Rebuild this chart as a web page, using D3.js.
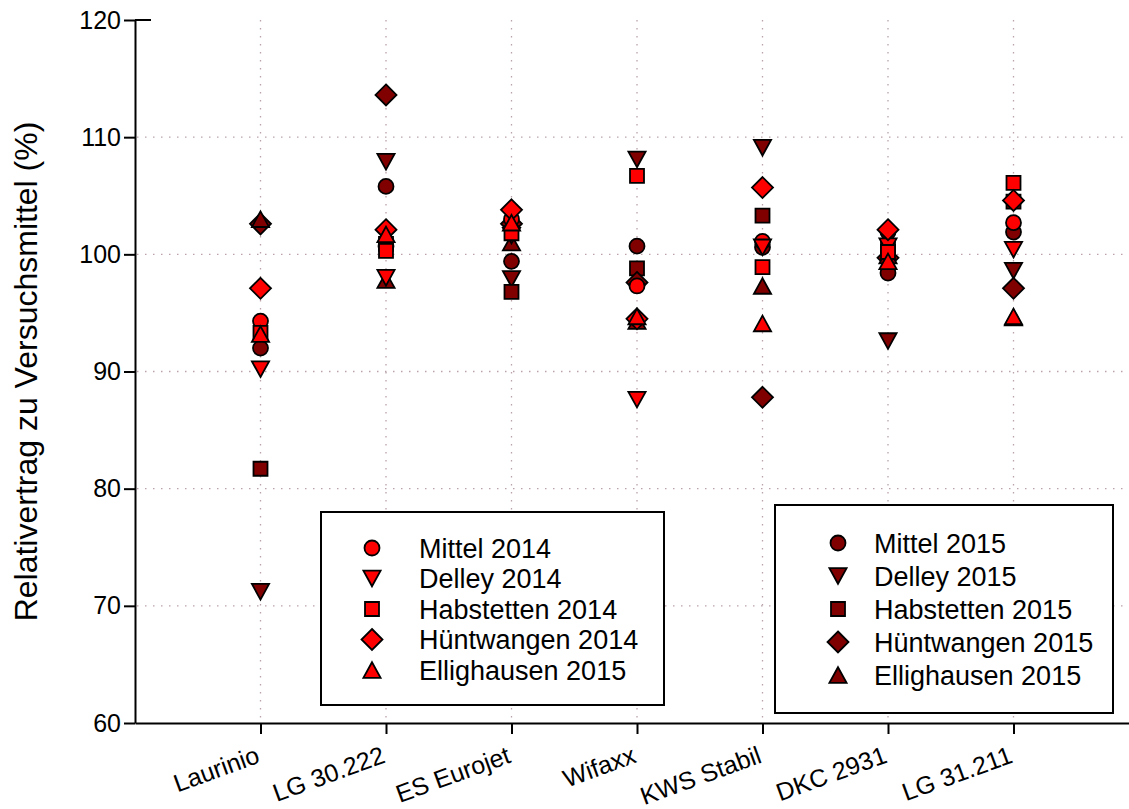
<!DOCTYPE html>
<html>
<head>
<meta charset="utf-8">
<script src="https://cdn.jsdelivr.net/npm/d3@7"></script>
<style>
  body { margin: 0; background: #fff; }
  text { font-family: Arial, "Liberation Sans", sans-serif; }
</style>
</head>
<body>
<div id="chart"></div>
<script>
// categories (x axis)
var categories = ["Laurinio", "LG 30.222", "ES Eurojet", "Wifaxx", "KWS Stabil", "DKC 2931", "LG 31.211"]

// 2014 series (red)
var mittel2014 = [94.3, 100.7, 103.0, 97.3, 101.1, 101.9, 102.7]
var delley2014 = [90.2, 98.0, 101.6, 87.6, 100.6, 100.7, 100.4]
var habstetten2014 = [93.3, 100.3, 101.8, 106.7, 98.9, 100.2, 106.1]
var huentwangen2014 = [97.1, 102.1, 103.8, 94.5, 105.7, 102.1, 104.6]
var ellighausen2014 = [93.2, 101.7, 102.7, 94.7, 94.1, 99.4, 94.7]

// 2015 series (dark red)
var mittel2015 = [92.0, 105.8, 99.4, 100.7, 100.6, 98.4, 101.9]
var delley2015 = [71.2, 107.9, 97.9, 108.1, 109.1, 92.6, 98.6]
var habstetten2015 = [81.7, 100.9, 96.8, 98.8, 103.3, 100.6, 104.5]
var huentwangen2015 = [102.6, 113.6, 102.6, 97.6, 87.8, 99.7, 97.1]
var ellighausen2015 = [103.0, 97.8, 101.0, 94.3, 97.3, 99.9, 94.6]

var yTicks = [60, 70, 80, 90, 100, 110, 120]

var legend2014 = ["Mittel 2014", "Delley 2014", "Habstetten 2014", "Hüntwangen 2014", "Ellighausen 2015"]
var legend2015 = ["Mittel 2015", "Delley 2015", "Habstetten 2015", "Hüntwangen 2015", "Ellighausen 2015"]

var shapes = ["circle", "down", "square", "diamond", "up"]
var red = "#ff0000", dark = "#800000"

// series in drawing order: 2015 first, 2014 on top
var series = [
    { values: mittel2015, shape: "circle", fill: dark },
    { values: delley2015, shape: "down", fill: dark },
    { values: habstetten2015, shape: "square", fill: dark },
    { values: huentwangen2015, shape: "diamond", fill: dark },
    { values: ellighausen2015, shape: "up", fill: dark },
    { values: mittel2014, shape: "circle", fill: red },
    { values: delley2014, shape: "down", fill: red },
    { values: habstetten2014, shape: "square", fill: red },
    { values: huentwangen2014, shape: "diamond", fill: red },
    { values: ellighausen2014, shape: "up", fill: red }
]

// dimensions of the plot area
var W = 1129, H = 809
var plotLeft = 135, plotRight = 1139, plotTop = 20, plotBottom = 723

var svg = d3.select("#chart")
    .append("svg")
    .attr("width", W)
    .attr("height", H)

var x = d3.scaleLinear().domain([0, 8]).range([plotLeft, plotRight])
var y = d3.scaleLinear().domain([60, 120]).range([plotBottom, plotTop])

// marker path builder
function markerPath(shape) {
    var p = d3.path()
    if (shape == "circle") {
        p.arc(0, 0, 7.5, 0, 2 * Math.PI)
    } else if (shape == "square") {
        p.rect(-7, -7, 14, 14)
    } else if (shape == "diamond") {
        p.moveTo(0, -10.5); p.lineTo(10.5, 0); p.lineTo(0, 10.5); p.lineTo(-10.5, 0); p.closePath()
    } else if (shape == "up") {
        p.moveTo(0, -7.8); p.lineTo(8.6, 7.8); p.lineTo(-8.6, 7.8); p.closePath()
    } else if (shape == "down") {
        p.moveTo(0, 7.8); p.lineTo(8.6, -7.8); p.lineTo(-8.6, -7.8); p.closePath()
    }
    return p.toString()
}

// gridlines (dotted)
var grid = svg.append("g")
grid.selectAll("hgrid")
    .data(yTicks.filter(function(d) { return d > 60 && d < 120 }))
    .enter()
    .append("line")
    .attr("x1", plotLeft + 2)
    .attr("x2", plotRight)
    .attr("y1", function(d) { return y(d) })
    .attr("y2", function(d) { return y(d) })
    .attr("stroke", "#b9a3a8")
    .attr("stroke-width", 1.3)
    .attr("stroke-dasharray", "1.5,6.5")
grid.selectAll("vgrid")
    .data(categories)
    .enter()
    .append("line")
    .attr("x1", function(d, i) { return x(i + 1) })
    .attr("x2", function(d, i) { return x(i + 1) })
    .attr("y1", plotTop)
    .attr("y2", plotBottom - 2)
    .attr("stroke", "#b9a3a8")
    .attr("stroke-width", 1.3)
    .attr("stroke-dasharray", "1.5,6.5")

// points
series.forEach(function(s) {
    svg.append("g")
        .selectAll("path")
        .data(s.values)
        .enter()
        .append("path")
        .attr("d", markerPath(s.shape))
        .attr("transform", function(d, i) {
            return "translate(" + x(i + 1) + "," + y(d) + ")"
        })
        .attr("fill", s.fill)
        .attr("stroke", "black")
        .attr("stroke-width", 1.8)
})

// y axis
var yAxis = svg.append("g")
    .attr("transform", "translate(" + plotLeft + ",0)")
    .call(d3.axisLeft(y).tickValues(yTicks).tickSize(11).tickSizeOuter(0).tickPadding(3))
yAxis.select(".domain").attr("stroke-width", 2)
yAxis.selectAll(".tick line").attr("stroke-width", 2)
yAxis.selectAll("text").style("font-size", "25px").attr("fill", "black")
// short inward tick at the top
svg.append("line")
    .attr("x1", plotLeft)
    .attr("x2", plotLeft + 16)
    .attr("y1", y(120))
    .attr("y2", y(120))
    .attr("stroke", "black")
    .attr("stroke-width", 2)

// x axis
var xAxis = svg.append("g")
    .attr("transform", "translate(0," + plotBottom + ")")
    .call(d3.axisBottom(x)
        .tickValues(d3.range(1, categories.length + 1))
        .tickFormat(function(d) { return categories[d - 1] })
        .tickSize(11)
        .tickSizeOuter(0))
xAxis.select(".domain").attr("stroke-width", 2)
xAxis.selectAll(".tick line").attr("stroke-width", 2)
xAxis.selectAll("text")
    .style("font-size", "25px")
    .attr("fill", "black")
    .attr("text-anchor", "end")
    .attr("y", 0)
    .attr("dy", 0)
    .attr("transform", "translate(0,39) rotate(-20)")

// y title
svg.append("text")
    .attr("transform", "translate(37," + ((plotTop + plotBottom) / 2) + ") rotate(-90)")
    .attr("text-anchor", "middle")
    .style("font-size", "32px")
    .text("Relativertrag zu Versuchsmittel (%)")

// legends
function drawLegend(labels, fill, bx, by, bw, bh, symX, textX, firstY, step) {
    var g = svg.append("g")
    g.append("rect")
        .attr("x", bx)
        .attr("y", by)
        .attr("width", bw)
        .attr("height", bh)
        .attr("fill", "white")
        .attr("stroke", "black")
        .attr("stroke-width", 2)
    labels.forEach(function(lab, i) {
        g.append("path")
            .attr("d", markerPath(shapes[i]))
            .attr("transform", "translate(" + symX + "," + (firstY + i * step) + ")")
            .attr("fill", fill)
            .attr("stroke", "black")
            .attr("stroke-width", 1.8)
        g.append("text")
            .attr("x", textX)
            .attr("y", firstY + i * step)
            .attr("dy", "0.36em")
            .style("font-size", "27px")
            .text(lab)
    })
}
drawLegend(legend2014, red, 321, 512, 343, 193, 372, 419, 548, 30.5)
drawLegend(legend2015, dark, 775, 505, 338, 208, 838, 874, 543, 33)
</script>
</body>
</html>
